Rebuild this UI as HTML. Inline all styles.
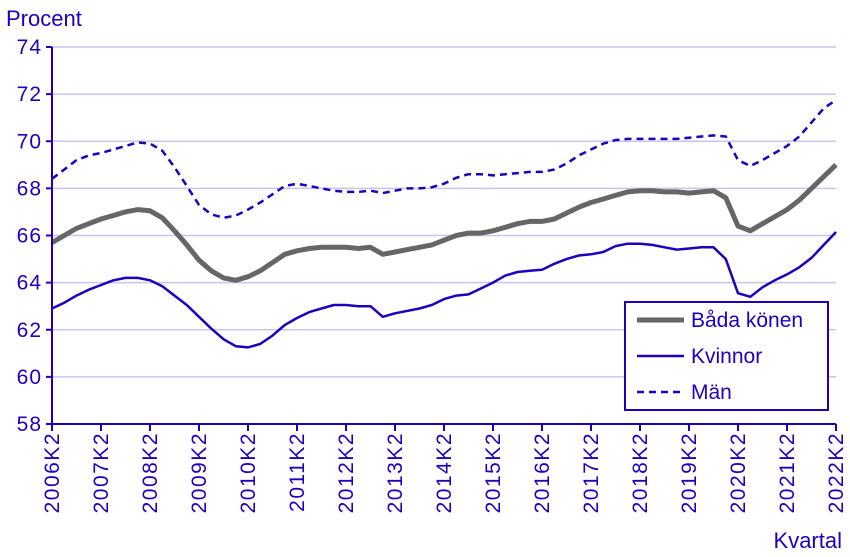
<!DOCTYPE html>
<html><head><meta charset="utf-8"><style>
body{margin:0;background:#fff;}
svg{display:block;font-family:"Liberation Sans",sans-serif;}
</style></head><body>
<svg id="chart" width="850" height="557">
<text x="6" y="26" font-size="22" style="fill:#1e00be">Procent</text>
<text x="842" y="548" font-size="22" text-anchor="end" fill="#1e00be">Kvartal</text>
<g id="grid"></g><g id="series"></g><g id="axes"></g>
<g>
<rect x="625" y="302" width="203" height="108" fill="#fff" stroke="#1e00be" stroke-width="2"/>
<g><line x1="637" y1="320" x2="684" y2="320" stroke="#666" stroke-width="5"/><text x="691" y="327" font-size="21" fill="#1e00be">Båda könen</text></g>
<g><line x1="637" y1="356" x2="684" y2="356" stroke="#1e00be" stroke-width="2.5"/><text x="691" y="363" font-size="21" fill="#1e00be">Kvinnor</text></g>
<g><line x1="637" y1="392" x2="684" y2="392" stroke="#1e00be" stroke-width="2.5" stroke-dasharray="7,5"/><text x="691" y="399" font-size="21" fill="#1e00be">Män</text></g>
</g>
</svg>
<script>
const yTicks=[58,60,62,64,66,68,70,72,74];
const xLabels=["2006K2","2007K2","2008K2","2009K2","2010K2","2011K2","2012K2","2013K2","2014K2","2015K2","2016K2","2017K2","2018K2","2019K2","2020K2","2021K2","2022K2"];
const bada=[65.7,66.0,66.3,66.5,66.7,66.85,67.0,67.1,67.05,66.75,66.2,65.6,64.95,64.5,64.2,64.1,64.25,64.5,64.85,65.2,65.35,65.45,65.5,65.5,65.5,65.45,65.5,65.2,65.3,65.4,65.5,65.6,65.8,66.0,66.1,66.1,66.2,66.35,66.5,66.6,66.6,66.7,66.95,67.2,67.4,67.55,67.7,67.85,67.9,67.9,67.85,67.85,67.8,67.85,67.9,67.6,66.4,66.2,66.5,66.8,67.1,67.5,68.0,68.5,69.0];
const kvinnor=[62.9,63.15,63.45,63.7,63.9,64.1,64.2,64.2,64.1,63.85,63.45,63.05,62.55,62.05,61.6,61.3,61.25,61.4,61.75,62.2,62.5,62.75,62.9,63.05,63.05,63.0,63.0,62.55,62.7,62.8,62.9,63.05,63.3,63.45,63.5,63.75,64.0,64.3,64.45,64.5,64.55,64.8,65.0,65.15,65.2,65.3,65.55,65.65,65.65,65.6,65.5,65.4,65.45,65.5,65.5,65.0,63.55,63.4,63.8,64.1,64.35,64.65,65.05,65.6,66.15];
const man=[68.4,68.8,69.2,69.4,69.5,69.65,69.8,69.95,69.9,69.6,68.9,68.1,67.3,66.9,66.75,66.85,67.1,67.4,67.75,68.1,68.2,68.1,68.0,67.9,67.85,67.85,67.9,67.8,67.9,68.0,68.0,68.05,68.2,68.45,68.6,68.6,68.55,68.6,68.65,68.7,68.7,68.8,69.05,69.4,69.65,69.9,70.05,70.1,70.1,70.1,70.1,70.1,70.15,70.2,70.25,70.2,69.2,68.95,69.2,69.5,69.8,70.2,70.8,71.4,71.75];
const NS="http://www.w3.org/2000/svg";
const X0=52,X1=836,Y0=424,Y1=47,YMIN=58,YMAX=74;
const n=bada.length;
const xs=i=>X0+(X1-X0)*i/(n-1);
const ys=v=>Y0-(v-YMIN)/(YMAX-YMIN)*(Y0-Y1);
function mk(t,a,p){const e=document.createElementNS(NS,t);for(const k in a)e.setAttribute(k,a[k]);p.appendChild(e);return e;}
const grid=document.getElementById('grid'),axes=document.getElementById('axes'),ser=document.getElementById('series');
yTicks.forEach(v=>{
 if(v>YMIN){const g=mk('line',{x1:X0,x2:X1,y1:ys(v),y2:ys(v),stroke:'#c8c4ec','stroke-width':1.5},grid);
 
 }
 const tk=mk('line',{x1:X0-6,x2:X0,y1:ys(v),y2:ys(v),stroke:'#1e00be','stroke-width':2},axes);
 
 
 const t=mk('text',{x:X0-10,y:ys(v)+7,'font-size':21,'letter-spacing':1,'text-anchor':'end',fill:'#1e00be'},axes);
 t.textContent=v;
 
 
});
const ya=mk('line',{x1:X0,x2:X0,y1:Y1,y2:Y0,stroke:'#1e00be','stroke-width':2},axes);


const xa=mk('line',{x1:X0,x2:X1,y1:Y0,y2:Y0,stroke:'#1e00be','stroke-width':2},axes);


xLabels.forEach((l,k)=>{
 const x=xs(k*4);
 const tk=mk('line',{x1:x,x2:x,y1:Y0,y2:Y0+7,stroke:'#1e00be','stroke-width':2},axes);
 
 
 const t=mk('text',{x:0,y:0,'font-size':21,'letter-spacing':1.5,'text-anchor':'end',fill:'#1e00be',transform:`translate(${x+7},${Y0+8}) rotate(-90)`},axes);
 t.textContent=l;
 
 
});
function line(arr,attrs,name){
 const d=arr.map((v,i)=>(i?'L':'M')+xs(i).toFixed(1)+','+ys(v).toFixed(1)).join('');
 const p=mk('path',Object.assign({d:d,fill:'none','stroke-linejoin':'round'},attrs),ser);
 
 
}
line(man,{stroke:'#1e00be','stroke-width':2.5,'stroke-dasharray':'7,5'},'line-man');
line(kvinnor,{stroke:'#1e00be','stroke-width':2.5},'line-kvinnor');
line(bada,{stroke:'#666','stroke-width':5},'line-bada-konen');
</script>
</body></html>
